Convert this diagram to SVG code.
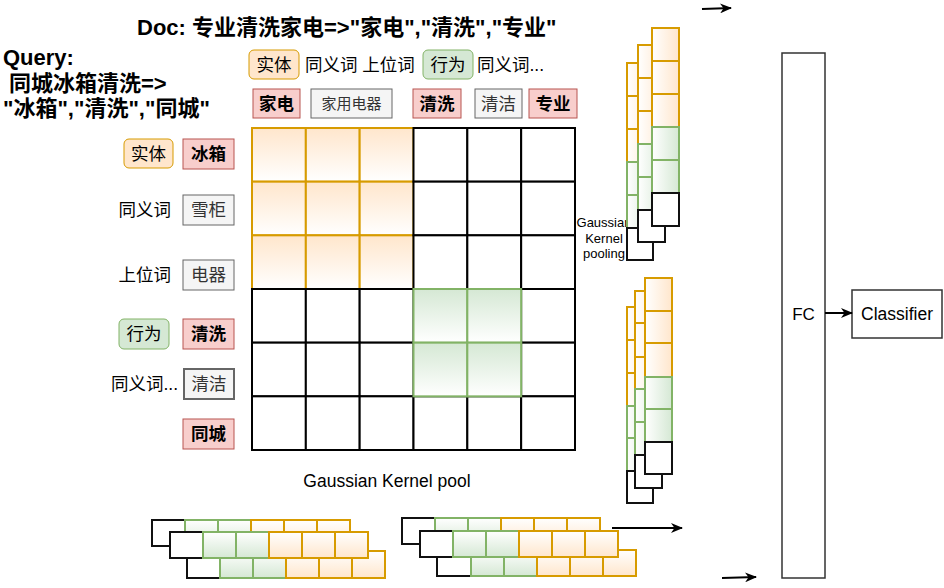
<svg xmlns="http://www.w3.org/2000/svg" width="944" height="588" viewBox="0 0 944 588">
<defs>
<linearGradient id="gOrV" x1="0" y1="0" x2="0" y2="1"><stop offset="0" stop-color="#ffe6cc"/><stop offset="1" stop-color="#ffffff"/></linearGradient>
<linearGradient id="gGrV" x1="0" y1="0" x2="0" y2="1"><stop offset="0" stop-color="#d5e8d4"/><stop offset="1" stop-color="#ffffff"/></linearGradient>
<linearGradient id="gOrH" x1="0" y1="0" x2="1" y2="0"><stop offset="0" stop-color="#ffffff"/><stop offset="1" stop-color="#ffe6cc"/></linearGradient>
<linearGradient id="gGrH" x1="0" y1="0" x2="1" y2="0"><stop offset="0" stop-color="#ffffff"/><stop offset="1" stop-color="#d5e8d4"/></linearGradient>
<linearGradient id="gOrB" x1="0" y1="0" x2="0" y2="1"><stop offset="0" stop-color="#ffffff"/><stop offset="1" stop-color="#ffe6cc"/></linearGradient>
<linearGradient id="gGrB" x1="0" y1="0" x2="0" y2="1"><stop offset="0" stop-color="#ffffff"/><stop offset="1" stop-color="#d5e8d4"/></linearGradient>
<marker id="arr" markerWidth="12" markerHeight="10" refX="11" refY="5" orient="auto" markerUnits="userSpaceOnUse"><path d="M0,0 L12,5 L0,10 L3.5,5 z" fill="#000"/></marker>
</defs>
<style>
text{font-family:"Liberation Sans","Noto Sans CJK SC",sans-serif;fill:#000}
.title{font-size:22px;font-weight:bold}
.lbl{font-size:17.5px}
.c{text-anchor:middle;dominant-baseline:central}
.b{font-weight:bold}
.g{fill:#333}
.red{fill:#f8cecc;stroke:#b85450;stroke-width:1}
.org{fill:#ffe6cc;stroke:#d79b00;stroke-width:1}
.grn{fill:#d5e8d4;stroke:#82b366;stroke-width:1}
.gry{fill:#f5f5f5;stroke:#666666;stroke-width:1}
.cb{fill:#ffffff;stroke:#000;stroke-width:2}
.co{fill:url(#gOrV);stroke:#d79b00;stroke-width:2}
.cg{fill:url(#gGrV);stroke:#82b366;stroke-width:2}
.ho{fill:url(#gOrH);stroke:#d79b00;stroke-width:2}
.hg{fill:url(#gGrH);stroke:#82b366;stroke-width:2}
.bo{fill:url(#gOrB);stroke:#d79b00;stroke-width:2}
.bg{fill:url(#gGrB);stroke:#82b366;stroke-width:2}
.bk{fill:#ffffff;stroke:#111;stroke-width:2}
.box{fill:#ffffff;stroke:#333;stroke-width:1.5}
.ln{stroke:#000;stroke-width:2;fill:none;marker-end:url(#arr)}
.sm{font-size:13px;text-anchor:middle;dominant-baseline:central}
</style>
<rect x="0" y="0" width="944" height="588" fill="#ffffff"/>

<g id="doc-title"><text class="title" x="137" y="35">Doc: 专业清洗家电=&gt;"家电","清洗","专业"</text></g>
<g id="query-title">
<text class="title" x="3" y="65">Query:</text>
<text class="title" x="9" y="91">同城冰箱清洗=&gt;</text>
<text class="title" x="3" y="116">"冰箱","清洗","同城"</text>
</g>

<g id="doc-labels">
<g id="d-shiti"><rect class="org" x="249" y="50" width="50" height="29" rx="5"/><text class="lbl c" x="274" y="64.5">实体</text></g>
<g id="d-syc"><text class="lbl" x="305" y="64.5" dominant-baseline="central">同义词 上位词</text></g>
<g id="d-xingwei"><rect class="grn" x="423" y="50" width="50" height="29" rx="5"/><text class="lbl c" x="448" y="64.5">行为</text></g>
<g id="d-syc2"><text class="lbl" x="477" y="64.5" dominant-baseline="central">同义词...</text></g>
<g id="d-jiadian"><rect class="red" x="253" y="89" width="47" height="29"/><text class="lbl c b" x="276.5" y="103.5">家电</text></g>
<g id="d-jydq"><rect class="gry" x="311" y="89" width="81" height="29"/><text class="c g" x="351.5" y="103.5" style="font-size:15px">家用电器</text></g>
<g id="d-qingxi"><rect class="red" x="413" y="89" width="48" height="29"/><text class="lbl c b" x="437" y="103.5">清洗</text></g>
<g id="d-qingjie"><rect class="gry" x="475" y="89" width="47" height="29"/><text class="lbl c g" x="498.5" y="103.5">清洁</text></g>
<g id="d-zhuanye"><rect class="red" x="529" y="89" width="48" height="29"/><text class="lbl c b" x="553" y="103.5">专业</text></g>
</g>

<g id="query-labels">
<g id="q-shiti"><rect class="org" x="124" y="139" width="49" height="29" rx="5"/><text class="lbl c" x="148.5" y="153.5">实体</text></g>
<g id="q-bingxiang"><rect class="red" x="183" y="139" width="51" height="30"/><text class="lbl c b" x="208.5" y="154">冰箱</text></g>
<g id="q-syc"><text class="lbl" x="171" y="210" text-anchor="end" dominant-baseline="central">同义词</text></g>
<g id="q-xuegui"><rect class="gry" x="183" y="195" width="51" height="30"/><text class="lbl c g" x="208.5" y="210">雪柜</text></g>
<g id="q-swc"><text class="lbl" x="171" y="275" text-anchor="end" dominant-baseline="central">上位词</text></g>
<g id="q-dianqi"><rect class="gry" x="183" y="260" width="51" height="30"/><text class="lbl c g" x="208.5" y="275">电器</text></g>
<g id="q-xingwei"><rect class="grn" x="119" y="319" width="50" height="30" rx="5"/><text class="lbl c" x="144" y="334">行为</text></g>
<g id="q-qingxi"><rect class="red" x="183" y="319" width="51" height="30"/><text class="lbl c b" x="208.5" y="334">清洗</text></g>
<g id="q-syc2"><text class="lbl" x="178" y="384" text-anchor="end" dominant-baseline="central">同义词...</text></g>
<g id="q-qingjie"><rect class="gry" x="184" y="369" width="50" height="30" style="stroke-width:2"/><text class="lbl c g" x="209" y="384">清洁</text></g>
<g id="q-tongcheng"><rect class="red" x="183" y="419" width="51" height="30"/><text class="lbl c b" x="208.5" y="434">同城</text></g>
</g>

<g id="matrix">
<rect class="co" x="252" y="128" width="53.83" height="53.67"/>
<rect class="co" x="305.83" y="128" width="53.83" height="53.67"/>
<rect class="co" x="359.67" y="128" width="53.83" height="53.67"/>
<rect class="co" x="252" y="181.67" width="53.83" height="53.67"/>
<rect class="co" x="305.83" y="181.67" width="53.83" height="53.67"/>
<rect class="co" x="359.67" y="181.67" width="53.83" height="53.67"/>
<rect class="co" x="252" y="235.33" width="53.83" height="53.67"/>
<rect class="co" x="305.83" y="235.33" width="53.83" height="53.67"/>
<rect class="co" x="359.67" y="235.33" width="53.83" height="53.67"/>
<rect class="cb" x="413.5" y="128" width="53.83" height="53.67"/>
<rect class="cb" x="467.33" y="128" width="53.83" height="53.67"/>
<rect class="cb" x="521.17" y="128" width="53.83" height="53.67"/>
<rect class="cb" x="413.5" y="181.67" width="53.83" height="53.67"/>
<rect class="cb" x="467.33" y="181.67" width="53.83" height="53.67"/>
<rect class="cb" x="521.17" y="181.67" width="53.83" height="53.67"/>
<rect class="cb" x="413.5" y="235.33" width="53.83" height="53.67"/>
<rect class="cb" x="467.33" y="235.33" width="53.83" height="53.67"/>
<rect class="cb" x="521.17" y="235.33" width="53.83" height="53.67"/>
<rect class="cb" x="252" y="289" width="53.83" height="53.67"/>
<rect class="cb" x="305.83" y="289" width="53.83" height="53.67"/>
<rect class="cb" x="359.67" y="289" width="53.83" height="53.67"/>
<rect class="cb" x="521.17" y="289" width="53.83" height="53.67"/>
<rect class="cb" x="252" y="342.67" width="53.83" height="53.67"/>
<rect class="cb" x="305.83" y="342.67" width="53.83" height="53.67"/>
<rect class="cb" x="359.67" y="342.67" width="53.83" height="53.67"/>
<rect class="cb" x="521.17" y="342.67" width="53.83" height="53.67"/>
<rect class="cb" x="252" y="396.33" width="53.83" height="53.67"/>
<rect class="cb" x="305.83" y="396.33" width="53.83" height="53.67"/>
<rect class="cb" x="359.67" y="396.33" width="53.83" height="53.67"/>
<rect class="cb" x="413.5" y="396.33" width="53.83" height="53.67"/>
<rect class="cb" x="467.33" y="396.33" width="53.83" height="53.67"/>
<rect class="cb" x="521.17" y="396.33" width="53.83" height="53.67"/>
<rect class="cg" x="413.5" y="289" width="53.83" height="53.67"/>
<rect class="cg" x="467.33" y="289" width="53.83" height="53.67"/>
<rect class="cg" x="413.5" y="342.67" width="53.83" height="53.67"/>
<rect class="cg" x="467.33" y="342.67" width="53.83" height="53.67"/>
</g>
<g id="matrix-label"><text x="387" y="481" text-anchor="middle" dominant-baseline="central" style="font-size:17.5px">Gaussian Kernel pool</text></g>

<g id="pooling-label"><text class="sm" x="604" y="222">Gaussian</text><text class="sm" x="604" y="238">Kernel</text><text class="sm" x="604" y="253">pooling</text></g>

<g id="stack-top">
<g>
<rect class="ho" x="627" y="63" width="26" height="33"/><rect class="ho" x="627" y="96" width="26" height="33"/><rect class="ho" x="627" y="129" width="26" height="33"/>
<rect class="hg" x="627" y="162" width="26" height="33"/><rect class="hg" x="627" y="195" width="26" height="33"/>
<rect class="bk" x="627" y="228" width="26" height="32"/>
</g>
<g>
<rect class="ho" x="638" y="45" width="27" height="33"/><rect class="ho" x="638" y="78" width="27" height="33"/><rect class="ho" x="638" y="111" width="27" height="33"/>
<rect class="hg" x="638" y="144" width="27" height="33"/><rect class="hg" x="638" y="177" width="27" height="33"/>
<rect class="bk" x="638" y="210" width="27" height="32"/>
</g>
<g>
<rect class="ho" x="652" y="28" width="27" height="33"/><rect class="ho" x="652" y="61" width="27" height="33"/><rect class="ho" x="652" y="94" width="27" height="33"/>
<rect class="hg" x="652" y="127" width="27" height="33"/><rect class="hg" x="652" y="160" width="27" height="33"/>
<rect class="bk" x="652" y="193" width="27" height="33"/>
</g>
</g>

<g id="stack-mid">
<g>
<rect class="ho" x="627" y="307" width="26" height="33"/><rect class="ho" x="627" y="340" width="26" height="33"/><rect class="ho" x="627" y="373" width="26" height="33"/>
<rect class="hg" x="627" y="406" width="26" height="32"/><rect class="hg" x="627" y="438" width="26" height="33"/>
<rect class="bk" x="627" y="471" width="26" height="32"/>
</g>
<g>
<rect class="ho" x="635" y="291" width="27" height="32"/><rect class="ho" x="635" y="323" width="27" height="34"/><rect class="ho" x="635" y="357" width="27" height="32"/>
<rect class="hg" x="635" y="389" width="27" height="33"/><rect class="hg" x="635" y="422" width="27" height="33"/>
<rect class="bk" x="635" y="455" width="27" height="33"/>
</g>
<g>
<rect class="ho" x="645" y="278" width="27" height="33"/><rect class="ho" x="645" y="311" width="27" height="32"/><rect class="ho" x="645" y="343" width="27" height="34"/>
<rect class="hg" x="645" y="377" width="27" height="32"/><rect class="hg" x="645" y="409" width="27" height="33"/>
<rect class="bk" x="645" y="442" width="27" height="32"/>
</g>
</g>

<g id="stack-bottom-left">
<g>
<rect class="bk" x="152" y="520" width="33" height="26"/>
<rect class="bg" x="185" y="520" width="33" height="26"/><rect class="bg" x="218" y="520" width="33" height="26"/>
<rect class="bo" x="251" y="520" width="33" height="26"/><rect class="bo" x="284" y="520" width="33" height="26"/><rect class="bo" x="317" y="520" width="33" height="26"/>
</g>
<g>
<rect class="bk" x="187" y="551" width="33" height="27"/>
<rect class="bg" x="220" y="551" width="33" height="27"/><rect class="bg" x="253" y="551" width="33" height="27"/>
<rect class="bo" x="286" y="551" width="33" height="27"/><rect class="bo" x="319" y="551" width="33" height="27"/><rect class="bo" x="352" y="551" width="33" height="27"/>
</g>
<g>
<rect class="bk" x="170" y="532" width="33" height="26"/>
<rect class="bg" x="203" y="532" width="33" height="26"/><rect class="bg" x="236" y="532" width="33" height="26"/>
<rect class="bo" x="269" y="532" width="33" height="26"/><rect class="bo" x="302" y="532" width="33" height="26"/><rect class="bo" x="335" y="532" width="33" height="26"/>
</g>
</g>

<g id="stack-bottom-right">
<g>
<rect class="bk" x="402" y="518" width="33" height="26"/>
<rect class="bg" x="435" y="518" width="33" height="26"/><rect class="bg" x="468" y="518" width="33" height="26"/>
<rect class="bo" x="501" y="518" width="33" height="26"/><rect class="bo" x="534" y="518" width="33" height="26"/><rect class="bo" x="567" y="518" width="33" height="26"/>
</g>
<g>
<rect class="bk" x="437" y="550" width="34" height="26"/>
<rect class="bg" x="471" y="550" width="33" height="26"/><rect class="bg" x="504" y="550" width="33" height="26"/>
<rect class="bo" x="537" y="550" width="33" height="26"/><rect class="bo" x="570" y="550" width="33" height="26"/><rect class="bo" x="603" y="550" width="33" height="26"/>
</g>
<g>
<rect class="bk" x="420" y="531" width="33" height="26"/>
<rect class="bg" x="453" y="531" width="33" height="26"/><rect class="bg" x="486" y="531" width="33" height="26"/>
<rect class="bo" x="519" y="531" width="33" height="26"/><rect class="bo" x="552" y="531" width="33" height="26"/><rect class="bo" x="585" y="531" width="33" height="26"/>
</g>
</g>

<g id="fc"><rect class="box" x="782" y="53" width="43" height="525"/><text x="803.5" y="314" text-anchor="middle" dominant-baseline="central" style="font-size:17px">FC</text></g>
<g id="classifier"><rect class="box" x="852" y="290" width="90" height="48"/><text x="897" y="314" text-anchor="middle" dominant-baseline="central" style="font-size:17.5px">Classifier</text></g>

<g id="connectors">
<line class="ln" x1="702" y1="9" x2="731" y2="8"/>
<line class="ln" x1="722" y1="578" x2="756" y2="577"/>
<line class="ln" x1="612" y1="528" x2="682" y2="528"/>
<line class="ln" x1="825" y1="313" x2="852" y2="313"/>
</g>
</svg>
